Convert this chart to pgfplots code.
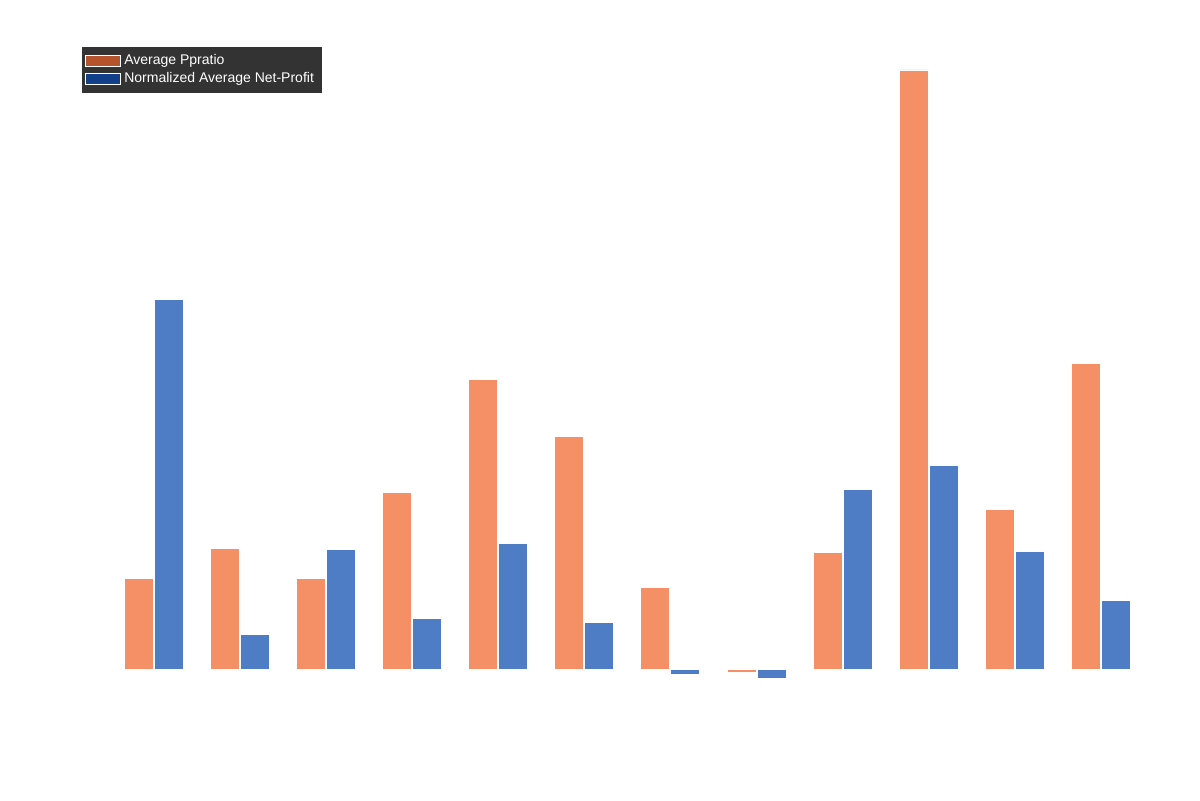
\documentclass[border=0pt]{standalone}
\usepackage{pgfplots}
\pgfplotsset{compat=1.18}
\usepackage{fontspec}
\setmainfont{Liberation Sans}
\definecolor{orb}{HTML}{F58F66}
\definecolor{blb}{HTML}{4E7DC5}
\definecolor{orl}{HTML}{B5532C}
\definecolor{bll}{HTML}{123F8A}
\begin{document}
\begin{tikzpicture}
\begin{axis}[
  scale only axis, width=600pt, height=400pt,
  xmin=0, xmax=1200, ymin=-131, ymax=669,
  hide axis, ybar, bar width=29.5, clip=false,
  legend style={at={(axis cs:82,622)}, anchor=north west, fill=black!80, draw=black!80,
    text=white, font=\fontsize{7}{8.5}\selectfont, row sep=-1.5pt, inner sep=1.5pt},
  legend cell align=left, area legend,
]
\addplot[fill=orb, draw=white, bar shift=-15, legend image post style={fill=orl,draw=white}] coordinates {
(154,91)(240,121)(326,91)(412,177)(498,290)(584,233)(670,82)(757,-3)(843,117)(929,599)(1015,160)(1101,306)};
\addplot[fill=blb, draw=white, bar shift=15, legend image post style={fill=bll,draw=white}] coordinates {
(154,370)(240,35)(326,120)(412,51)(498,126)(584,47)(670,-5)(757,-9)(843,180)(929,204)(1015,118)(1101,69)};
\legend{Average Ppratio, Normalized Average Net-Profit}
\path[draw=none] (rel axis cs:0,0) rectangle (rel axis cs:1,1);
\end{axis}
\end{tikzpicture}
\end{document}
